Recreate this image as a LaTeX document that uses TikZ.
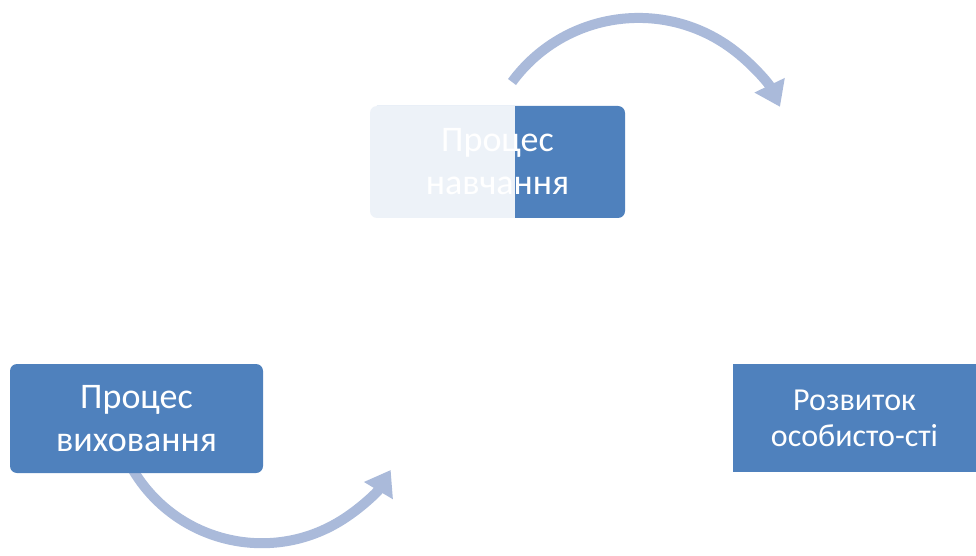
\documentclass[tikz,border=0pt]{standalone}
\usepackage{fontspec}
\setmainfont{Carlito}
\usepackage{tikz}
\usetikzlibrary{arrows.meta,positioning}
\definecolor{boxblue}{RGB}{79,129,189}
\definecolor{arcblue}{RGB}{170,186,218}
\tikzset{
  procbox/.style = {rectangle, rounded corners=7pt, fill=boxblue, text=white,
    align=center, inner sep=0pt, font=\fontsize{36}{43}\selectfont},
  learnbox/.style = {procbox, minimum width=255pt, minimum height=112pt},% verkhnii blok
  teachbox/.style = {procbox, minimum width=253pt, minimum height=109pt},
  growbox/.style = {procbox, rounded corners=0pt, minimum width=243pt, minimum height=108pt,
    font=\fontsize{32}{36}\selectfont},
  cyclearc/.style = {draw=arcblue, line width=10pt, -{Triangle[width=32pt,length=24pt]}},
}

\begin{document}
\begin{tikzpicture}[x=1pt,y=1pt]
\useasboundingbox (0,0) rectangle (976,555);
% dugy cyklu
\coordinate (topstart) at (512,473);
\coordinate (botstart) at (133,85);
\draw [cyclearc] (topstart) arc[start angle=143.7, end angle=25.7, radius=157];
\draw [cyclearc] (botstart) arc[start angle=210.8, end angle=329.2, radius=150];
% bloky
\node [learnbox] (learn) at (497.5,393) {Процес\\навчання};
\node [teachbox] (teach) at (136.5,136.5) {Процес\\виховання};
\node [growbox] (grow) at (854.5,137) {Розвиток\\особисто-сті};
% napivprozora plyama
\fill [white, opacity=0.9] (learn.south west) rectangle ([xshift=145pt]learn.north west);
\end{tikzpicture}
\end{document}
